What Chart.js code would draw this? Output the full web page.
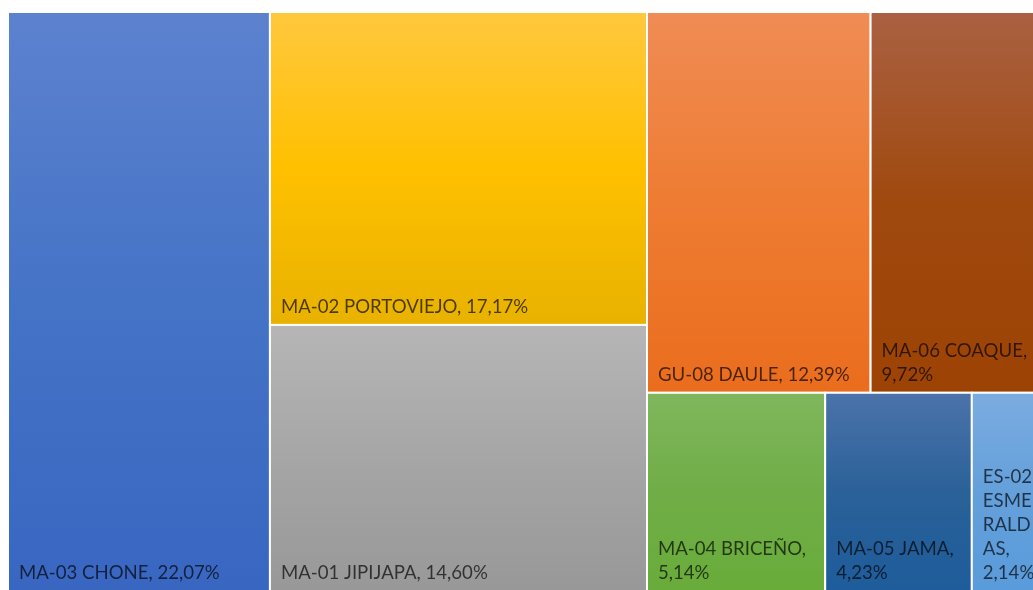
<!DOCTYPE html>
<html lang="es">
<head>
    <meta charset="UTF-8">
    <title>Treemap</title>
    <script src="https://cdn.jsdelivr.net/npm/chart.js"></script>
    <style>
        html, body { margin: 0; padding: 0; background: #fff; overflow: hidden; }
        .chart-box { width: 1046px; height: 591px; }
    </style>
</head>
<body>
    <div class="chart-box">
        <canvas id="treemap-chart"></canvas>
    </div>

    <script>
    // Data
    const categories = ['MA-03 CHONE', 'MA-02 PORTOVIEJO', 'MA-01 JIPIJAPA', 'GU-08 DAULE',
                        'MA-06 COAQUE', 'MA-04 BRICEÑO', 'MA-05 JAMA', 'ES-02 ESMERALDAS'];
    const shares = [22.07, 17.17, 14.60, 12.39, 9.72, 5.14, 4.23, 2.14];

    // Slice order of the tiles: 'h' = side by side, 'v' = stacked
    const layoutTree = ['h', 0, ['v', 1, 2], ['v', ['h', 3, 4], ['h', 5, 6, 7]]];

    // top / middle / bottom of each tile's gradient
    const palette = [
        ['#5C82CF', '#4573C6', '#3966C1'],
        ['#FFC83E', '#FFC000', '#E8B200'],
        ['#B6B6B6', '#A6A6A6', '#989898'],
        ['#F08C55', '#EE7C32', '#EA6D1D'],
        ['#AA6142', '#A0490F', '#9C4304'],
        ['#80B75D', '#70AD47', '#69AC3A'],
        ['#4B73AA', '#2A6198', '#1E5C9B'],
        ['#7BACE0', '#64A0DB', '#5A9BDB']
    ];

    function nodeSum(n) {
        if (typeof n === 'number') return shares[n];
        return n.slice(1).reduce((s, c) => s + nodeSum(c), 0);
    }

    function slice(n, x0, y0, x1, y1, out) {
        if (typeof n === 'number') {
            out[n] = { x0, y0, x1, y1 };
            return;
        }
        const total = nodeSum(n);
        let pos = n[0] === 'h' ? x0 : y0;
        n.slice(1).forEach(k => {
            const f = nodeSum(k) / total;
            if (n[0] === 'h') {
                const w = (x1 - x0) * f;
                slice(k, pos, y0, pos + w, y1, out);
                pos += w;
            } else {
                const h = (y1 - y0) * f;
                slice(k, x0, pos, x1, pos + h, out);
                pos += h;
            }
        });
    }

    const tiles = [];
    slice(layoutTree, 0, 0, 1, 1, tiles);

    function labelFor(i) {
        return categories[i] + ', ' + shares[i].toFixed(2).replace('.', ',') + '%';
    }

    // wrap by words, break a word by letters when it does not fit alone
    function wrapText(ctx, text, maxW) {
        const lines = [];
        let line = '';
        text.split(' ').forEach(word => {
            const test = line ? line + ' ' + word : word;
            if (ctx.measureText(test).width <= maxW) {
                line = test;
                return;
            }
            if (line) lines.push(line);
            line = '';
            if (ctx.measureText(word).width <= maxW) {
                line = word;
                return;
            }
            let part = '';
            for (const ch of word) {
                if (ctx.measureText(part + ch).width > maxW && part) {
                    lines.push(part);
                    part = ch;
                } else {
                    part += ch;
                }
            }
            line = part;
        });
        if (line) lines.push(line);
        return lines;
    }

    const treemapPlugin = {
        id: 'treemapTiles',
        beforeDatasetsDraw(chart) {
            const { ctx, scales: { x, y } } = chart;
            ctx.save();
            tiles.forEach((t, i) => {
                const left = x.getPixelForValue(t.x0);
                const right = x.getPixelForValue(t.x1);
                const top = y.getPixelForValue(t.y0);
                const bottom = y.getPixelForValue(t.y1);

                const grad = ctx.createLinearGradient(0, top, 0, bottom);
                grad.addColorStop(0, palette[i][0]);
                grad.addColorStop(0.5, palette[i][1]);
                grad.addColorStop(1, palette[i][2]);
                ctx.fillStyle = grad;
                ctx.fillRect(left, top, right - left, bottom - top);

                ctx.strokeStyle = '#ffffff';
                ctx.lineWidth = 2;
                ctx.strokeRect(left, top, right - left, bottom - top);

                // label, anchored bottom-left
                ctx.font = '18.6px Lato';
                ctx.fillStyle = 'rgba(0, 0, 0, 0.68)';
                ctx.textBaseline = 'alphabetic';
                ctx.textAlign = 'left';
                const lines = wrapText(ctx, labelFor(i), right - left - 22);
                const lineH = 24;
                lines.forEach((ln, k) => {
                    const by = bottom - 12 - (lines.length - 1 - k) * lineH;
                    ctx.fillText(ln, left + 11, by);
                });
            });
            ctx.restore();
        }
    };

    new Chart(document.getElementById('treemap-chart'), {
        type: 'scatter',
        data: {
            datasets: [{
                label: 'Participación',
                data: tiles.map(t => ({ x: (t.x0 + t.x1) / 2, y: (t.y0 + t.y1) / 2 })),
                pointRadius: 0,
                pointHoverRadius: 0
            }]
        },
        options: {
            responsive: true,
            maintainAspectRatio: false,
            animation: false,
            layout: { padding: { left: 8, top: 12, right: 0, bottom: 0 } },
            scales: {
                x: { type: 'linear', min: 0, max: 1, display: false },
                y: { type: 'linear', min: 0, max: 1, reverse: true, display: false }
            },
            plugins: {
                legend: { display: false },
                tooltip: { enabled: false }
            }
        },
        plugins: [treemapPlugin]
    });
    </script>
</body>
</html>
